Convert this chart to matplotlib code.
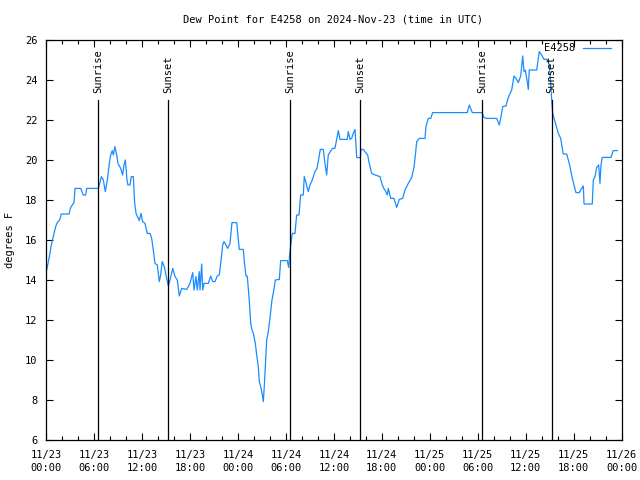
import matplotlib
matplotlib.use("Agg")
import matplotlib.pyplot as plt

plt.rcParams['font.family'] = ['DejaVu Sans Mono']

# hours since 2024-11-23 00:00 UTC
hours = [0.09, 0.25, 0.5, 0.66, 0.91, 1.21, 1.41, 1.71, 1.91, 2.88, 3.09, 3.5, 3.63, 4.34, 4.66, 4.96, 5.09,
         6.54, 6.72, 6.92, 7.17, 7.42, 7.67, 7.92, 8.09, 8.29, 8.42, 8.63, 8.84, 9.0, 9.34, 9.59, 9.75, 9.92,
         10.13, 10.25, 10.5, 10.67, 10.92, 11.09, 11.26, 11.54, 11.67, 11.88, 12.09, 12.38, 12.67, 13.01,
         13.22, 13.42, 13.63, 13.92, 14.17, 14.34, 14.54, 14.79, 15.09, 15.3, 15.51, 15.85, 16.13, 16.42,
         16.67, 16.97, 17.6, 18.01, 18.35, 18.51, 18.76, 18.92, 19.17, 19.26, 19.47, 19.6, 19.76, 20.3,
         20.6, 20.85, 21.14, 21.42, 21.67, 21.85, 22.1, 22.26, 22.51, 22.72, 23.01, 23.26, 23.85, 24.17,
         24.68, 24.8, 25.01, 25.17, 25.42, 25.6, 25.76, 25.93, 26.18, 26.35, 26.55, 26.68, 26.85, 27.01,
         27.18, 27.3, 27.43, 27.6, 27.8, 28.01, 28.26, 28.51, 28.68, 29.18, 29.35, 30.18, 30.35, 30.48,
         30.6, 30.8, 31.14, 31.35, 31.64, 31.85, 32.18, 32.3, 32.48, 32.8, 33.02, 33.3, 33.64, 33.89,
         34.05, 34.3, 34.68, 34.89, 35.1, 35.3, 35.56, 35.81, 36.14, 36.35, 36.56, 36.77, 37.68, 37.81,
         38.02, 38.23, 38.43, 38.64, 38.77, 38.86, 39.31, 39.39, 39.68, 39.98, 40.23, 40.43, 40.73, 41.15,
         41.77, 42.06, 42.31, 42.4, 42.68, 42.81, 43.11, 43.52, 43.86, 44.18, 44.61, 44.9, 45.31, 45.74,
         46.02, 46.24, 46.36, 46.69, 47.4, 47.52, 47.81, 48.11, 48.36, 52.69, 52.94, 53.31, 54.53, 54.78,
         55.03, 56.37, 56.69, 56.87, 57.12, 57.53, 57.74, 57.94, 58.24, 58.53, 58.78, 59.07, 59.37, 59.62,
         59.78, 59.94, 60.19, 60.32, 60.44, 61.37, 61.57, 61.69, 61.99, 62.28, 62.69, 62.94, 63.12, 63.24,
         63.37, 63.66, 64.07, 64.37, 64.69, 65.12, 65.44, 65.74, 66.03, 66.28, 66.69, 66.99, 67.2, 67.29,
         68.32, 68.45, 68.66, 68.87, 69.12, 69.28, 69.41, 69.57, 70.66, 70.94, 71.44]
dew_point = [14.5, 14.83, 15.35, 15.75, 16.17, 16.67, 16.87, 17.0, 17.3, 17.3, 17.63, 17.87, 18.58, 18.58, 18.25, 18.25, 18.58,
             18.58, 18.83, 19.17, 19.0, 18.42, 19.0, 19.83, 20.25, 20.47, 20.25, 20.67, 20.25, 19.83, 19.58, 19.25, 19.75, 20.0,
             19.0, 18.75, 18.75, 19.17, 19.17, 17.83, 17.33, 17.08, 16.97, 17.33, 16.92, 16.83, 16.33, 16.33,
             16.08, 15.5, 14.83, 14.75, 13.92, 14.25, 14.92, 14.67, 14.08, 13.7, 14.0, 14.58, 14.17, 14.0,
             13.2, 13.58, 13.53, 13.83, 14.37, 13.5, 14.17, 13.5, 14.42, 13.5, 14.8, 13.5, 13.83, 13.83,
             14.2, 13.92, 13.92, 14.2, 14.25, 14.83, 15.75, 15.92, 15.75, 15.58, 15.83, 16.87, 16.87, 15.53,
             15.53, 14.92, 14.2, 14.2, 13.0, 11.83, 11.5, 11.33, 10.83, 10.25, 9.67, 8.92, 8.67, 8.37,
             7.92, 8.67, 9.67, 11.0, 11.42, 12.08, 13.0, 13.53, 14.0, 14.03, 14.97, 14.97, 14.63, 15.33,
             15.7, 16.33, 16.33, 17.25, 17.25, 18.25, 18.25, 19.17, 18.92, 18.42, 18.75, 19.0, 19.42, 19.58,
             19.92, 20.53, 20.53, 19.83, 19.25, 20.25, 20.42, 20.58, 20.58, 21.03, 21.47, 21.03, 21.03, 21.42,
             21.03, 21.08, 21.33, 21.53, 20.75, 20.12, 20.12, 20.53, 20.53, 20.37, 20.25, 19.83, 19.33, 19.25,
             19.17, 18.75, 18.53, 18.5, 18.25, 18.58, 18.08, 18.08, 17.63, 18.03, 18.08, 18.5, 18.83, 19.13,
             19.63, 20.42, 20.92, 21.08, 21.08, 21.67, 22.08, 22.08, 22.37, 22.37, 22.75, 22.37, 22.37, 22.13,
             22.08, 22.08, 21.75, 22.08, 22.67, 22.7, 23.03, 23.25, 23.5, 24.2, 24.08, 23.87, 24.2, 25.2,
             24.42, 24.5, 23.92, 23.53, 24.5, 24.5, 25.08, 25.42, 25.25, 25.03, 25.03, 24.75, 23.83, 23.03,
             22.33, 21.92, 21.33, 21.08, 20.3, 20.3, 19.83, 19.25, 18.75, 18.37, 18.37, 18.58, 18.7, 17.8,
             17.8, 19.0, 19.17, 19.63, 19.75, 18.83, 19.75, 20.13, 20.13, 20.47, 20.47]

sun_event_hours = [6.54, 15.30, 30.55, 39.33, 54.53, 63.24]
sun_event_labels = ["Sunrise", "Sunset", "Sunrise", "Sunset", "Sunrise", "Sunset"]

x_tick_hours = [0, 6, 12, 18, 24, 30, 36, 42, 48, 54, 60, 66, 72]
x_tick_labels = ["11/23\n00:00", "11/23\n06:00", "11/23\n12:00", "11/23\n18:00",
                 "11/24\n00:00", "11/24\n06:00", "11/24\n12:00", "11/24\n18:00",
                 "11/25\n00:00", "11/25\n06:00", "11/25\n12:00", "11/25\n18:00",
                 "11/26\n00:00"]
y_ticks = [6, 8, 10, 12, 14, 16, 18, 20, 22, 24, 26]

fig = plt.figure(figsize=(6.4, 4.8), dpi=100)
ax = fig.add_axes([46/640, 40/480, (621.7-46)/640, 400/480])

line_color = '#1a8cff'
ax.plot(hours, dew_point, color=line_color, lw=0.9, label='E4258')

for h, lab in zip(sun_event_hours, sun_event_labels):
    ax.plot([h, h], [6, 23], color='black', lw=0.9)
    ax.text(h, 23.35, lab, rotation=90, ha='center', va='bottom', fontsize=7.5)

ax.set_xlim(0, 72)
ax.set_ylim(6, 26)
ax.set_xticks(x_tick_hours)
ax.set_xticklabels(x_tick_labels, fontsize=7.5, linespacing=1.45)
ax.set_xticks(list(range(0, 73, 2)), minor=True)
ax.set_yticks(y_ticks)
ax.set_yticklabels([str(v) for v in y_ticks], fontsize=7.5)

ax.tick_params(axis='both', which='major', direction='in', length=5, width=0.8,
               top=True, right=True)
ax.tick_params(axis='x', which='minor', direction='in', length=3, width=0.8, top=True)
ax.tick_params(axis='x', which='major', pad=7)
ax.tick_params(axis='y', which='major', pad=6)
for s in ax.spines.values():
    s.set_linewidth(0.9)

ax.set_ylabel('degrees F', fontsize=7.5, labelpad=7)
fig.text(333/640, 1 - 20/480, 'Dew Point for E4258 on 2024-Nov-23 (time in UTC)',
         ha='center', va='center', fontsize=7.5)

leg = ax.legend(loc='upper right', bbox_to_anchor=(0.985, 0.997), frameon=False,
                fontsize=7.5, handlelength=2.7, borderaxespad=0.0, borderpad=0.2,
                handletextpad=0.7, markerfirst=False)

fig.savefig('out.png', dpi=100)
